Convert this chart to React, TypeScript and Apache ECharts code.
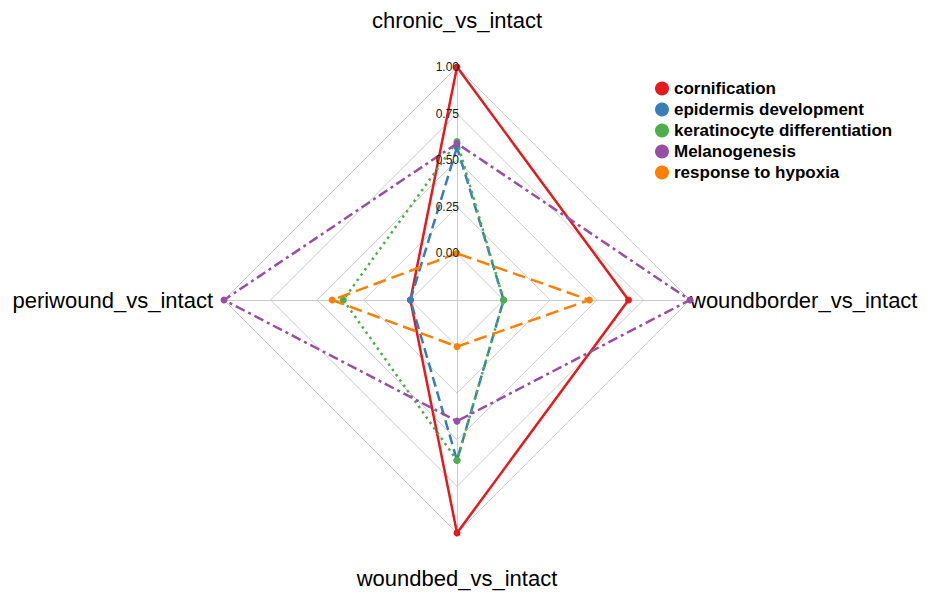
import React, { useEffect, useRef } from "react";
import * as echarts from "echarts";

const axes = ["chronic_vs_intact", "periwound_vs_intact", "woundbed_vs_intact", "woundborder_vs_intact"];
const tickLabels = ["0.00", "0.25", "0.50", "0.75", "1.00"];

const cornification = [1.0, 0.0, 1.0, 0.67];
const epidermisDevelopment = [0.57, 0.0, 0.61, 0.0];
const keratinocyteDifferentiation = [0.6, 0.36, 0.61, 0.0];
const melanogenesis = [0.59, 1.0, 0.4, 1.0];
const responseToHypoxia = [0.0, 0.42, 0.0, 0.46];

const seriesNames = ["cornification", "epidermis development", "keratinocyte differentiation", "Melanogenesis", "response to hypoxia"];
const seriesValues = [cornification, epidermisDevelopment, keratinocyteDifferentiation, melanogenesis, responseToHypoxia];
const colors = ["#E41A1C", "#377EB8", "#4DAF4A", "#984EA3", "#FF7F00"];
const dashes: any[] = ["solid", [10, 5], [2.5, 4], [10, 4, 3, 4], [13, 6]];

export default function App() {
  const ref = useRef<HTMLDivElement>(null);
  useEffect(() => {
    const chart = echarts.init(ref.current!, null, { renderer: "svg" });
    const center = [457, 300];
    const radius = 233;
    const font = "'Liberation Sans', Arial, Helvetica, sans-serif";
    chart.setOption({
      animation: false,
      backgroundColor: "#ffffff",
      legend: {
        orient: "vertical",
        left: 650,
        top: 75,
        icon: "circle",
        itemWidth: 14,
        itemHeight: 14,
        itemGap: 4,
        data: seriesNames,
        textStyle: { fontFamily: font, fontWeight: "bold", fontSize: 17, lineHeight: 17, color: "#000" },
      },
      radar: {
        center,
        radius,
        startAngle: 90,
        shape: "polygon",
        splitNumber: 5,
        nameGap: 0,
        indicator: axes.map((n) => ({ name: n, min: -0.25, max: 1 })),
        axisName: {
          color: "#000",
          fontFamily: font,
          fontSize: 22,
          formatter: (name: string) => {
            if (name === axes[0]) return "{t|" + name + "}";
            if (name === axes[2]) return "{b|" + name + "}";
            if (name === axes[1]) return "{l|" + name + "}";
            return "{r|" + name + "}";
          },
          rich: {
            t: { fontSize: 22, fontFamily: font, color: "#000", padding: [0, 0, 36, 0] },
            b: { fontSize: 22, fontFamily: font, color: "#000", padding: [34, 0, 0, 0] },
            l: { fontSize: 22, fontFamily: font, color: "#000", padding: [0, 11, 0, 0] },
            r: { fontSize: 22, fontFamily: font, color: "#000", padding: [0, 0, 0, 0] },
          },
        },
        axisLine: { lineStyle: { color: "#cccccc", width: 1 } },
        splitLine: { lineStyle: { color: "#cccccc", width: 1 } },
        splitArea: { show: false },
        axisTick: { show: false },
        axisLabel: { show: false },
      },
      polar: { center, radius },
      angleAxis: { show: false, startAngle: 90, min: 0, max: 360 },
      radiusAxis: {
        min: -0.25,
        max: 1,
        interval: 0.25,
        axisLine: { show: false },
        axisTick: { show: false },
        splitLine: { show: false },
        axisLabel: {
          fontFamily: font,
          fontSize: 12,
          color: "#1a1a1a",
          margin: -2,
          formatter: (v: number) => {
            const i = Math.round(v / 0.25);
            return i >= 0 && i < tickLabels.length ? tickLabels[i] : "";
          },
        },
        z: 10,
      },
      series: seriesNames.map((name, i) => ({
        type: "radar",
        name,
        symbol: "circle",
        symbolSize: 7,
        z: 2 + i,
        itemStyle: { color: colors[i] },
        lineStyle: { color: colors[i], width: 2.5, type: dashes[i] },
        data: [{ value: seriesValues[i], name }],
      })),
    });
    return () => chart.dispose();
  }, []);
  return <div ref={ref} style={{ position: "fixed", left: 0, top: 0, width: 932, height: 596 }} />;
}
